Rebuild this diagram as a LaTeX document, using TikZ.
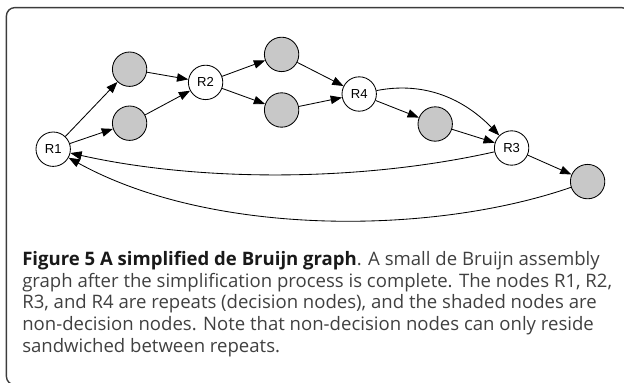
\documentclass[tikz,border=0pt]{standalone}
\usepackage{fontspec}
\setmainfont{Open Sans}
\newfontfamily\labelfont{Liberation Sans}
\usetikzlibrary{arrows.meta}
\definecolor{shadegray}{RGB}{200,200,200}
\definecolor{framegray}{RGB}{60,60,60}
\definecolor{captext}{RGB}{64,64,64}

\begin{document}
\begin{tikzpicture}[
        >={Triangle[length=8pt,width=6pt]},
        decnode/.style={draw, circle, line width=0.6pt, minimum size=0.86cm, inner sep=0pt,
            font=\labelfont\fontsize{9.3}{10}\selectfont},
        plainnode/.style={decnode, fill=shadegray},
        link/.style={->, line width=0.6pt}
    ]
        \useasboundingbox (0,0) rectangle (15.6,-9.55);
        \clip (0,0) rectangle (15.6,-9.55);
        \draw[framegray, line width=1pt, rounded corners=6pt] (0.16,-0.19) rectangle (15.75,-9.62);

        \node[decnode] (R1) at (1.33, -3.73) {R1};
        \node[plainnode] (A) at (3.24, -1.73) {};
        \node[plainnode] (B) at (3.24, -3.08) {};
        \node[decnode] (R2) at (5.14, -2.06) {R2};
        \node[plainnode] (C) at (7.04, -1.36) {};
        \node[plainnode] (D) at (7.04, -2.75) {};
        \node[decnode] (R4) at (8.98, -2.35) {R4};
        \node[plainnode] (E) at (10.88, -3.1) {};
        \node[decnode] (R3) at (12.79, -3.7) {R3};
        \node[plainnode] (F) at (14.69, -4.54) {};

        \draw[link] (R1) -- (A);
        \draw[link] (R1) -- (B);
        \draw[link] (A) -- (R2);
        \draw[link] (B) -- (R2);
        \draw[link] (R2) -- (C);
        \draw[link] (R2) -- (D);
        \draw[link] (C) -- (R4);
        \draw[link] (D) -- (R4);
        \draw[link] (R4) -- (E);
        \draw[link] (E) -- (R3);
        \draw[link] (R4) .. controls (10.5, -2.05) and (11.5, -2.38) .. (R3);
        \draw[link] (R3) -- (F);
        \draw[link] (R3) .. controls (9, -4.55) and (5, -4.55) .. (R1);
        \draw[link] (F) .. controls (10.75, -5.9) and (5.25, -5.9) .. (R1);

        % caption, base anchor sits on the last line
        \node[anchor=base west, align=left, inner sep=0pt, text=captext,
            font=\fontsize{13.2}{15.4}\selectfont] (cap) at (0.55, -8.8)
            {\textbf{\color{black!90}Figure 5 A simplified de Bruijn graph}. A small de Bruijn assembly\\
            graph after the simplification process is complete. The nodes R1, R2,\\
            R3, and R4 are repeats (decision nodes), and the shaded nodes are\\
            non-decision nodes. Note that non-decision nodes can only reside\\
            sandwiched between repeats.};
    \end{tikzpicture}
\end{document}
